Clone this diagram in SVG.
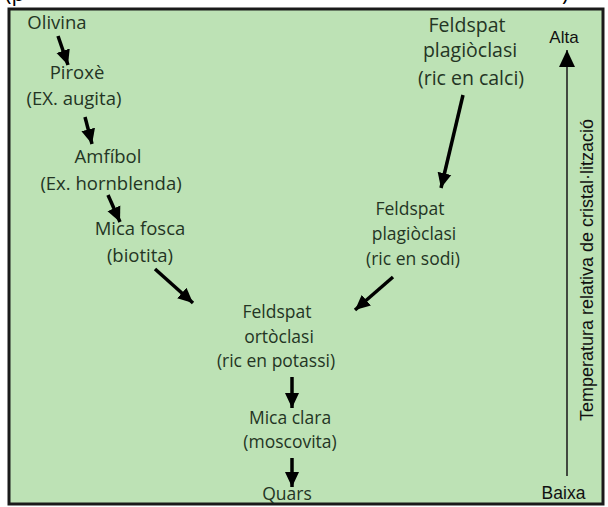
<svg xmlns="http://www.w3.org/2000/svg" width="608" height="507" viewBox="0 0 608 507">
<style>
.lbl{font-family:"Open Sans","Noto Sans",sans-serif;fill:#243524;text-anchor:middle}
.l1{font-size:18.5px}
.l2{font-size:17.5px}
.l3{font-size:19.5px}
.ax{font-family:"Liberation Sans",Arial,sans-serif;fill:#111;text-anchor:middle}
.arr{stroke:#000;stroke-width:3.5;fill:none;marker-end:url(#head)}
</style>
<defs>
<marker id="head" markerUnits="userSpaceOnUse" markerWidth="16" markerHeight="16" viewBox="0 0 16 14" refX="15" refY="7" orient="auto">
<path d="M0,0 L15,7 L0,14 Z" fill="#000"/>
</marker>
<marker id="axhead" markerUnits="userSpaceOnUse" markerWidth="18" markerHeight="16" viewBox="0 0 18 16" refX="17" refY="8" orient="auto">
<path d="M0,0 L17,8 L0,16 Z" fill="#000"/>
</marker>
</defs>
<rect width="608" height="507" fill="#ffffff"/>
<text x="5" y="1" class="lbl" style="text-anchor:start;font-size:22px;fill:#000">(p</text>
<text x="562" y="1" class="lbl" style="text-anchor:start;font-size:22px;fill:#000">)</text>
<rect x="9" y="9" width="594" height="495" fill="#bde2b5" stroke="#1a1a1a" stroke-width="3"/>

<g id="olivina"><text class="lbl l1" x="57" y="29">Olivina</text></g>
<g id="pirox"><text class="lbl l1" x="77" y="79">Piroxè</text><text class="lbl l1" x="74" y="105">(EX. augita)</text></g>
<g id="amfibol"><text class="lbl l1" x="108" y="163">Amfíbol</text><text class="lbl l1" x="111" y="190">(Ex. hornblenda)</text></g>
<g id="micafosca"><text class="lbl l1" x="140" y="235">Mica fosca</text><text class="lbl l1" x="140" y="262">(biotita)</text></g>
<g id="ortoclasi"><text class="lbl l2" x="277" y="318">Feldspat</text><text class="lbl l2" x="279" y="343">ortòclasi</text><text class="lbl l2" x="276" y="367">(ric en potassi)</text></g>
<g id="micaclara"><text class="lbl l2" x="290" y="424">Mica clara</text><text class="lbl l2" x="290" y="448">(moscovita)</text></g>
<g id="quars"><text class="lbl l2" x="287" y="500">Quars</text></g>
<g id="plagcalci"><text class="lbl l3" x="467" y="32">Feldspat</text><text class="lbl l3" x="470" y="57">plagiòclasi</text><text class="lbl l3" x="471" y="85">(ric en calci)</text></g>
<g id="plagsodi"><text class="lbl l2" x="410" y="215">Feldspat</text><text class="lbl l2" x="414" y="240">plagiòclasi</text><text class="lbl l2" x="413" y="265">(ric en sodi)</text></g>

<g id="axis">
<line x1="567" y1="476" x2="567" y2="50" stroke="#222" stroke-width="1.6" marker-end="url(#axhead)"/>
<text class="ax" x="564" y="43" font-size="17">Alta</text>
<text class="ax" x="563.5" y="499" font-size="17.5">Baixa</text>
<text class="ax" font-size="18" transform="translate(593,270) rotate(-90)">Temperatura relativa de cristal·lització</text>
</g>

<g id="connectors">
<path class="arr" d="M58,36 L68,65"/>
<path class="arr" d="M85,117 L92,144"/>
<path class="arr" d="M108,195 L120,222"/>
<path class="arr" d="M155,269 L193,303"/>
<path class="arr" d="M463,95 L441,188"/>
<path class="arr" d="M393,277 L355,310"/>
<path class="arr" d="M292,377 L292,408"/>
<path class="arr" d="M292,458 L292,487"/>
</g>
</svg>
